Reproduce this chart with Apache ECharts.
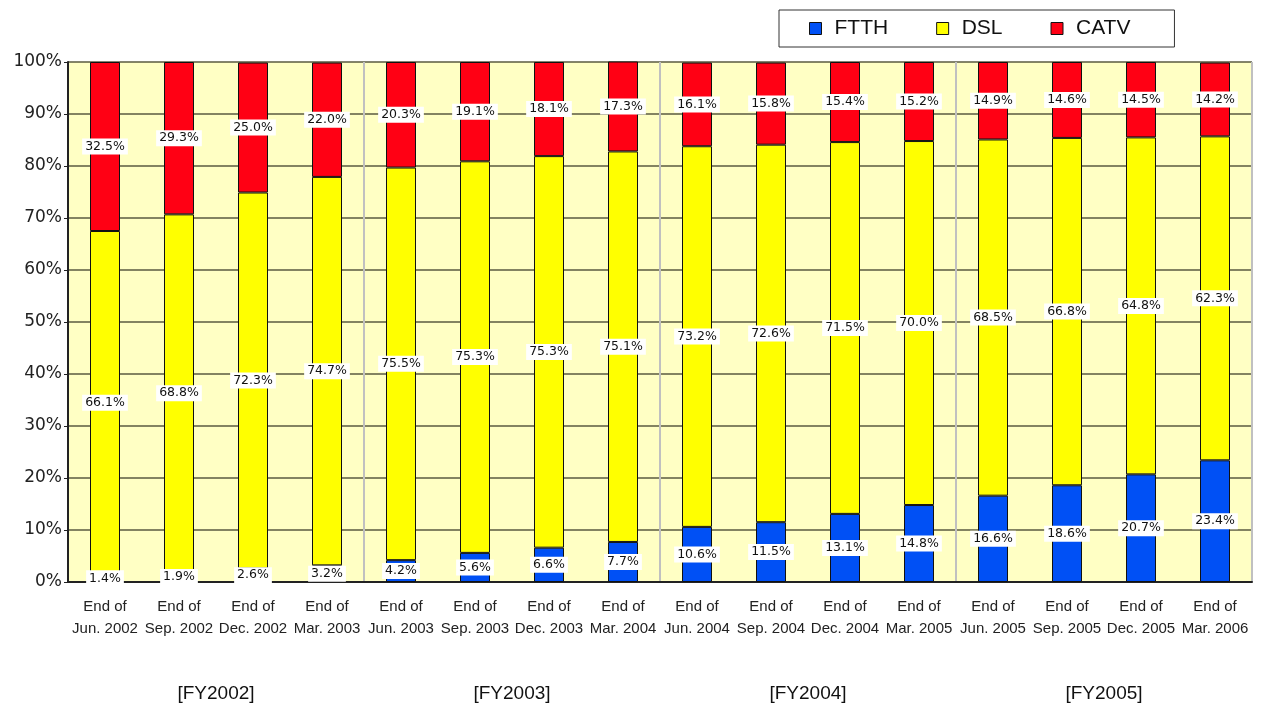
<!DOCTYPE html>
<html><head><meta charset="utf-8">
<script src="https://cdn.jsdelivr.net/npm/echarts@6/dist/echarts.min.js"></script>
<style>html,body{margin:0;padding:0;background:#fff}#c{width:1265px;height:706px}</style>
</head><body><div id="c"></div>
<script>
const categories = ['End of\nJun. 2002','End of\nSep. 2002','End of\nDec. 2002','End of\nMar. 2003',
 'End of\nJun. 2003','End of\nSep. 2003','End of\nDec. 2003','End of\nMar. 2004',
 'End of\nJun. 2004','End of\nSep. 2004','End of\nDec. 2004','End of\nMar. 2005',
 'End of\nJun. 2005','End of\nSep. 2005','End of\nDec. 2005','End of\nMar. 2006'];
const fiscalYears = ['[FY2002]','[FY2003]','[FY2004]','[FY2005]'];
const ftth = [1.4,1.9,2.6,3.2,4.2,5.6,6.6,7.7,10.6,11.5,13.1,14.8,16.6,18.6,20.7,23.4];
const dsl  = [66.1,68.8,72.3,74.7,75.5,75.3,75.3,75.1,73.2,72.6,71.5,70.0,68.5,66.8,64.8,62.3];
const catv = [32.5,29.3,25.0,22.0,20.3,19.1,18.1,17.3,16.1,15.8,15.4,15.2,14.9,14.6,14.5,14.2];
const yTicks = [0,10,20,30,40,50,60,70,80,90,100];

const chart = echarts.init(document.getElementById('c'));
const lbl = {
  show: true, position: 'inside', color: '#111', fontFamily: 'DejaVu Sans', fontSize: 12.5,
  backgroundColor: '#fff', padding: [2, 3, 1, 3],
  formatter: p => p.value.toFixed(1) + '%'
};
function bar(name, data, color) {
  return { name, type: 'bar', stack: 'a', data, barWidth: 30,
    itemStyle: { color, borderColor: '#111', borderWidth: 1 },
    label: lbl };
}
chart.setOption({
  animation: false,
  legend: {
    top: 10, left: 779,
    data: ['FTTH','DSL','CATV'],
    icon: 'rect',
    itemWidth: 12, itemHeight: 12, itemGap: 48,
    padding: [7, 44, 7, 30],
    borderColor: '#333', borderWidth: 1, borderRadius: 0,
    textStyle: { fontFamily: 'Liberation Sans', fontSize: 21, color: '#111', padding: [0, 0, 0, 8], lineHeight: 23 },
    itemStyle: { borderColor: '#111', borderWidth: 1 }
  },
  grid: { left: 68, right: 13, top: 62, bottom: 124, containLabel: false,
    show: true, backgroundColor: '#FFFFC4', borderWidth: 0 },
  xAxis: [{
    type: 'category', data: categories,
    axisLine: { show: true, lineStyle: { color: '#222', width: 2 } },
    axisTick: { show: false },
    axisLabel: { interval: 0, fontFamily: 'Liberation Sans', fontSize: 15, color: '#222', lineHeight: 22, margin: 14 },
    splitLine: { show: true, interval: (i) => i % 4 === 0 && i > 0, lineStyle: { color: '#c0c0c0', width: 2 } }
  }, {
    type: 'category', data: fiscalYears, position: 'bottom', offset: 94,
    axisLine: { show: false }, axisTick: { show: false },
    axisLabel: { fontFamily: 'Liberation Sans', fontSize: 19, color: '#111' }
  }],
  yAxis: {
    type: 'value', min: 0, max: 100, interval: 10,
    axisLine: { show: true, lineStyle: { color: '#222', width: 2 } },
    axisTick: { show: true, length: 4, lineStyle: { color: '#222' } },
    axisLabel: { fontFamily: 'DejaVu Sans', fontSize: 17, color: '#222', margin: 6,
      formatter: v => yTicks.includes(v) ? v + '%' : '' },
    splitLine: { show: true, lineStyle: { color: '#5a5a40', width: 1.5 } }
  },
  series: [bar('FTTH', ftth, '#0050F5'), bar('DSL', dsl, '#FFFF00'), bar('CATV', catv, '#FF0014')]
});
</script></body></html>
